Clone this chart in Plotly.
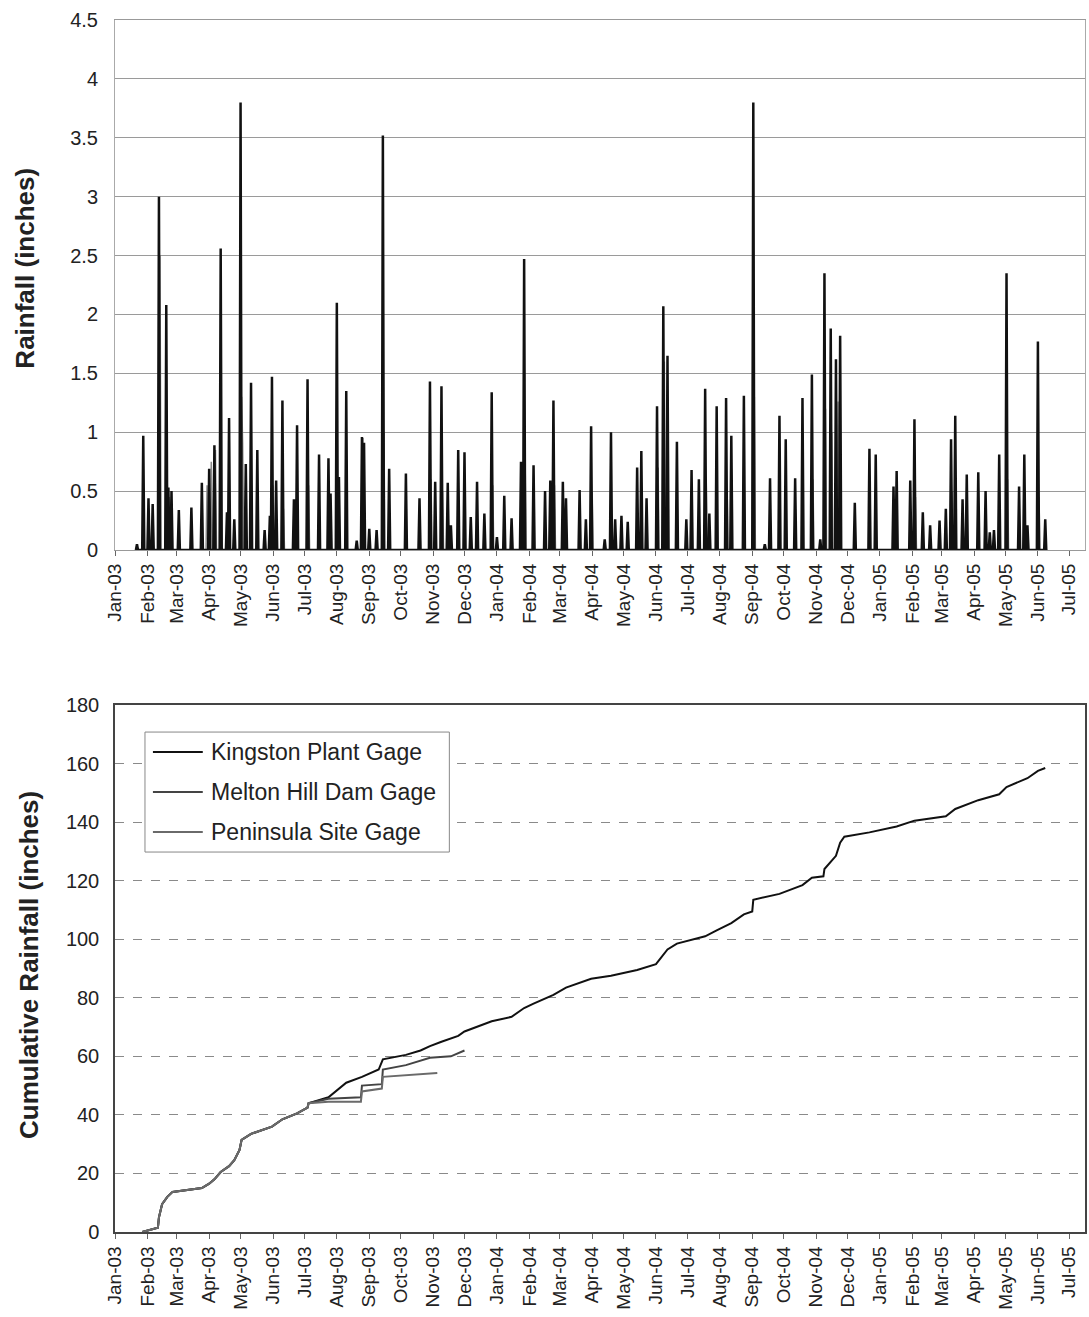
import pandas as pd
import plotly.graph_objects as go
from plotly.subplots import make_subplots

# ---------------- data ----------------
# Daily rainfall spikes, Kingston Plant Gage (black)
king_dates = [
    "2003-01-22", "2003-01-28", "2003-02-02", "2003-02-06", "2003-02-12", "2003-02-19", "2003-02-21", "2003-02-24",
    "2003-03-03", "2003-03-15", "2003-03-25", "2003-04-01", "2003-04-06", "2003-04-12", "2003-04-18", "2003-04-20",
    "2003-04-25", "2003-05-01", "2003-05-06", "2003-05-11", "2003-05-17", "2003-05-24", "2003-05-29", "2003-05-31",
    "2003-06-04", "2003-06-10", "2003-06-21", "2003-06-24", "2003-07-04", "2003-07-15", "2003-07-24", "2003-07-26",
    "2003-08-01", "2003-08-03", "2003-08-10", "2003-08-20", "2003-08-25", "2003-08-27", "2003-09-01", "2003-09-08",
    "2003-09-14", "2003-09-20", "2003-10-06", "2003-10-19", "2003-10-29", "2003-11-03", "2003-11-09", "2003-11-15",
    "2003-11-18", "2003-11-25", "2003-12-01", "2003-12-07", "2003-12-13", "2003-12-20", "2003-12-27", "2004-01-01",
    "2004-01-08", "2004-01-15", "2004-01-24", "2004-01-27", "2004-02-05", "2004-02-16", "2004-02-21", "2004-02-24",
    "2004-03-04", "2004-03-07", "2004-03-20", "2004-03-26", "2004-03-31", "2004-04-13", "2004-04-19", "2004-04-23",
    "2004-04-29", "2004-05-05", "2004-05-14", "2004-05-18", "2004-05-23", "2004-06-02", "2004-06-08", "2004-06-12",
    "2004-06-21", "2004-06-30", "2004-07-05", "2004-07-12", "2004-07-18", "2004-07-22", "2004-07-29", "2004-08-07",
    "2004-08-12", "2004-08-24", "2004-09-02", "2004-09-13", "2004-09-18", "2004-09-27", "2004-10-03", "2004-10-12",
    "2004-10-19", "2004-10-28", "2004-11-05", "2004-11-09", "2004-11-15", "2004-11-20", "2004-11-24", "2004-12-08",
    "2004-12-22", "2004-12-28", "2005-01-14", "2005-01-17", "2005-01-30", "2005-02-03", "2005-02-11", "2005-02-18",
    "2005-02-27", "2005-03-05", "2005-03-10", "2005-03-14", "2005-03-21", "2005-03-25", "2005-04-05", "2005-04-12",
    "2005-04-16", "2005-04-20", "2005-04-25", "2005-05-02", "2005-05-14", "2005-05-19", "2005-05-22", "2005-06-01",
    "2005-06-08",
]
king_values = [
    0.05, 0.97, 0.44, 0.39, 3.00, 2.08, 0.53, 0.50,
    0.34, 0.36, 0.57, 0.69, 0.89, 2.56, 0.32, 1.12,
    0.26, 3.80, 0.73, 1.42, 0.85, 0.17, 0.29, 1.47,
    0.59, 1.27, 0.43, 1.06, 1.45, 0.81, 0.78, 0.48,
    2.10, 0.62, 1.35, 0.08, 0.96, 0.91, 0.18, 0.17,
    3.52, 0.69, 0.65, 0.44, 1.43, 0.58, 1.39, 0.57,
    0.21, 0.85, 0.83, 0.28, 0.58, 0.31, 1.34, 0.11,
    0.46, 0.27, 0.75, 2.47, 0.72, 0.50, 0.59, 1.27,
    0.58, 0.44, 0.51, 0.26, 1.05, 0.09, 1.00, 0.26,
    0.29, 0.24, 0.70, 0.84, 0.44, 1.22, 2.07, 1.65,
    0.92, 0.26, 0.68, 0.60, 1.37, 0.31, 1.22, 1.29,
    0.97, 1.31, 3.80, 0.05, 0.61, 1.14, 0.94, 0.61,
    1.29, 1.49, 0.09, 2.35, 1.88, 1.62, 1.82, 0.40,
    0.86, 0.81, 0.54, 0.67, 0.59, 1.11, 0.32, 0.21,
    0.25, 0.35, 0.94, 1.14, 0.43, 0.64, 0.66, 0.50,
    0.15, 0.17, 0.81, 2.35, 0.54, 0.81, 0.21, 1.77,
    0.26,
]

# Daily rainfall spikes, other gages (grey)
other_dates = [
    "2003-02-13", "2003-02-20", "2003-02-22", "2003-03-30", "2003-04-03", "2003-04-07", "2003-05-02", "2003-05-03",
    "2003-06-01", "2003-06-11", "2003-07-05", "2003-07-25", "2003-08-02", "2003-08-26", "2003-09-15", "2003-10-30",
    "2003-11-10", "2003-12-28", "2004-01-28", "2004-02-25", "2004-04-01", "2004-06-03", "2004-06-09", "2004-07-19",
    "2004-08-08", "2004-09-03", "2004-10-29", "2004-11-10", "2004-11-16", "2004-11-22", "2005-02-04", "2005-03-11",
    "2005-05-03", "2005-06-02",
]
other_values = [
    2.50, 0.55, 0.45, 0.55, 0.75, 0.85, 1.30, 0.90,
    0.55, 0.35, 0.55, 0.35, 0.60, 0.95, 1.00, 0.60,
    0.50, 0.55, 0.70, 0.55, 0.50, 0.70, 1.60, 0.60,
    0.50, 1.30, 0.60, 1.20, 1.00, 1.26, 0.45, 0.50,
    0.60, 0.45,
]

# Cumulative rainfall (inches)
king_cum_dates = [
    "2003-01-27", "2003-02-11", "2003-02-12", "2003-02-15", "2003-02-20", "2003-02-25", "2003-03-25", "2003-04-01",
    "2003-04-06", "2003-04-12", "2003-04-20", "2003-04-25", "2003-04-30", "2003-05-02", "2003-05-11", "2003-05-31",
    "2003-06-10", "2003-06-24", "2003-07-04", "2003-07-05", "2003-07-24", "2003-08-01", "2003-08-10", "2003-08-25",
    "2003-09-10", "2003-09-14", "2003-10-06", "2003-10-20", "2003-10-29", "2003-11-09", "2003-11-25", "2003-12-01",
    "2003-12-27", "2004-01-15", "2004-01-27", "2004-02-05", "2004-02-24", "2004-03-07", "2004-03-31", "2004-04-19",
    "2004-05-14", "2004-06-01", "2004-06-12", "2004-06-21", "2004-07-18", "2004-07-29", "2004-08-12", "2004-08-24",
    "2004-09-01", "2004-09-02", "2004-09-27", "2004-10-19", "2004-10-28", "2004-11-08", "2004-11-09", "2004-11-20",
    "2004-11-24", "2004-11-28", "2004-12-22", "2005-01-17", "2005-02-03", "2005-03-05", "2005-03-14", "2005-04-05",
    "2005-04-25", "2005-05-02", "2005-05-22", "2005-06-01", "2005-06-08",
]
king_cum_values = [
    0, 1.5, 5, 9.5, 12, 13.7, 15, 16.5,
    18, 20.5, 22.5, 24.5, 28, 31.5, 33.5, 36,
    38.5, 40.5, 42.5, 44, 46, 48.5, 51, 53,
    55.5, 59, 60.5, 62, 63.5, 65, 67, 68.5,
    72, 73.5, 76.5, 78, 81, 83.5, 86.5, 87.5,
    89.5, 91.5, 96.5, 98.5, 101, 103, 105.5, 108.5,
    109.5, 113.5, 115.5, 118.5, 121, 121.5, 124, 128.5,
    133, 135, 136.5, 138.5, 140.5, 142, 144.5, 147.5,
    149.5, 152, 155, 157.5, 158.5,
]
shared_n = 20  # gages agree up to early July 2003
melton_cum_dates = king_cum_dates[:shared_n] + [
    "2003-07-24", "2003-08-24", "2003-08-25", "2003-09-13", "2003-09-14", "2003-10-06", "2003-10-29", "2003-11-18",
    "2003-12-01",
]
melton_cum_values = king_cum_values[:shared_n] + [45.5, 46, 50, 50.5, 55.5, 57, 59.5, 60, 62]
pen_cum_dates = king_cum_dates[:shared_n] + [
    "2003-07-24", "2003-08-24", "2003-08-25", "2003-09-13", "2003-09-14", "2003-10-06", "2003-11-05",
]
pen_cum_values = king_cum_values[:shared_n] + [44.5, 44.5, 48, 49, 53, 53.5, 54.3]

series_names = ["Kingston Plant Gage", "Melton Hill Dam Gage", "Peninsula Site Gage"]
series_colors = ["#111111", "#444444", "#6a6a6a"]
x_range = ["2003-01-01", "2005-07-16"]

# ---------------- build daily series ----------------
days = pd.date_range("2003-01-20", "2005-06-10", freq="D")
king_daily = pd.Series(0.0, index=days)
king_daily.loc[pd.to_datetime(king_dates)] = king_values
other_daily = pd.Series(0.0, index=days)
other_daily.loc[pd.to_datetime(other_dates)] = other_values

FONT = "Liberation Sans, Arial, sans-serif"
fig = make_subplots(rows=2, cols=1, vertical_spacing=0.1)

fig.add_trace(go.Scatter(x=other_daily.index, y=other_daily.values, mode="lines",
                         line=dict(color="#8a8a8a", width=1.5), showlegend=False), row=1, col=1)
fig.add_trace(go.Scatter(x=king_daily.index, y=king_daily.values, mode="lines",
                         line=dict(color="#111111", width=2.5), showlegend=False), row=1, col=1)

cum_sets = [(king_cum_dates, king_cum_values), (melton_cum_dates, melton_cum_values),
            (pen_cum_dates, pen_cum_values)]
for (d, v), name, col in zip(cum_sets, series_names, series_colors):
    fig.add_trace(go.Scatter(x=pd.to_datetime(d), y=v, mode="lines", name=name,
                             line=dict(color=col, width=2), showlegend=False), row=2, col=1)

xcommon = dict(range=x_range, type="date", dtick="M1", tick0="2003-01-01", tickformat="%b-%y",
               tickangle=-90, ticks="outside", ticklen=5, tickcolor="#666",
               tickfont=dict(family=FONT, size=19, color="#222"), showgrid=False)

fig.update_xaxes(**xcommon, showline=True, linecolor="#999", mirror=True, row=1, col=1)
fig.update_xaxes(**xcommon, showline=True, linecolor="#444", linewidth=1.5, mirror=True, row=2, col=1)

fig.update_yaxes(range=[0, 4.5], dtick=0.5, showgrid=True, gridcolor="#9a9a9a", gridwidth=1,
                 showline=True, linecolor="#aaa", mirror=True, ticks="", ticklabelstandoff=12,
                 tickfont=dict(family=FONT, size=20, color="#222"), zeroline=False, row=1, col=1)
fig.update_yaxes(range=[0, 180], dtick=20, showgrid=True, gridcolor="#8a8a8a", griddash="dash", gridwidth=1,
                 showline=True, linecolor="#444", linewidth=1.5, mirror=True, ticks="", ticklabelstandoff=10,
                 tickfont=dict(family=FONT, size=20, color="#222"), zeroline=False, row=2, col=1)

# ---------------- manual legend (box, line samples, labels) ----------------
shapes = [dict(type="rect", xref="paper", yref="paper", x0=0.0309, x1=0.3447, y0=0.3135, y1=0.4125,
               line=dict(color="#888", width=1), fillcolor="white", layer="above")]
annotations = [
    dict(text="<b>Rainfall (inches)</b>", textangle=-90, xref="paper", yref="paper",
         x=-0.0926, y=0.795, xanchor="center", yanchor="middle", showarrow=False,
         font=dict(family=FONT, size=26, color="#222")),
    dict(text="<b>Cumulative Rainfall (inches)</b>", textangle=-90, xref="paper", yref="paper",
         x=-0.088, y=0.22, xanchor="center", yanchor="middle", showarrow=False,
         font=dict(family=FONT, size=26, color="#222")),
]
legend_rows = [0.396, 0.363, 0.330]
for name, col, yy in zip(series_names, series_colors, legend_rows):
    shapes.append(dict(type="line", xref="paper", yref="paper", x0=0.0391, x1=0.0905, y0=yy, y1=yy,
                       line=dict(color=col, width=2), layer="above"))
    annotations.append(dict(text=name, xref="paper", yref="paper", x=0.0965, y=yy, xanchor="left",
                            yanchor="middle", showarrow=False,
                            font=dict(family=FONT, size=23, color="#222")))

fig.update_layout(
    width=1089, height=1317,
    margin=dict(l=115, r=2, t=20, b=85),
    paper_bgcolor="white", plot_bgcolor="white",
    showlegend=False,
    shapes=shapes,
    annotations=annotations,
)
fig.update_layout(yaxis=dict(domain=[0.5627, 1.0]), yaxis2=dict(domain=[0.0, 0.4348]))

fig.write_html("out.html")
